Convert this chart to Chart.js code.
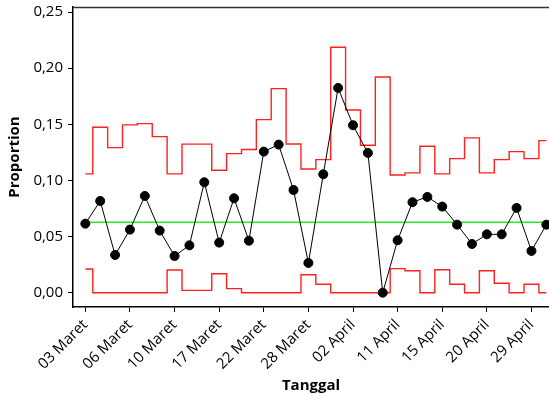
<!DOCTYPE html>
<html>
<head>
<meta charset="utf-8">
<script src="https://cdn.jsdelivr.net/npm/chart.js@4/dist/chart.umd.min.js"></script>
<style>
  html, body { margin: 0; padding: 0; background: #fff; }
</style>
</head>
<body>
<canvas id="pChart" width="549" height="397"></canvas>
<script>
// sample proportions (32 samples)
var proportion = [0.0615, 0.0817, 0.0336, 0.0562, 0.0862, 0.0553, 0.0327, 0.0422,
                  0.0984, 0.0446, 0.0841, 0.0463, 0.1257, 0.1319, 0.0915, 0.0265,
                  0.1055, 0.1824, 0.1492, 0.1245, 0.0000, 0.0467, 0.0806, 0.0853,
                  0.0767, 0.0606, 0.0434, 0.0520, 0.0520, 0.0755, 0.0372, 0.0606];
// upper control limit for each sample
var ucl = [0.1058, 0.1474, 0.1292, 0.1495, 0.1506, 0.1390, 0.1058, 0.1323,
           0.1323, 0.1091, 0.1239, 0.1275, 0.1542, 0.1818, 0.1325, 0.1102,
           0.1185, 0.2187, 0.1628, 0.1314, 0.1922, 0.1049, 0.1067, 0.1305,
           0.1058, 0.1194, 0.1379, 0.1067, 0.1185, 0.1257, 0.1194, 0.1355];
// lower control limit for each sample
var lcl = [0.0211, 0, 0, 0, 0, 0, 0.0202, 0.0021,
           0.0021, 0.0169, 0.0036, 0, 0, 0, 0, 0.0160,
           0.0075, 0, 0, 0, 0, 0.0214, 0.0196, 0,
           0.0205, 0.0075, 0, 0.0196, 0.0084, 0, 0.0075, 0];
var centerLine = 0.0627;

// date labels shown on the x axis, every 3rd sample
var tickIndex = [0, 3, 6, 9, 12, 15, 18, 21, 24, 27, 30];
var tickLabels = ['03 Maret', '06 Maret', '10 Maret', '17 Maret', '22 Maret', '28 Maret',
                  '02 April', '11 April', '15 April', '20 April', '29 April'];
var yTicks = [0, 0.05, 0.10, 0.15, 0.20, 0.25];

function pts(arr) {
    return arr.map(function (v, i) { return { x: i, y: v }; });
}
var clData = proportion.map(function (v, i) { return { x: i, y: centerLine }; });

// plot area runs off the right edge of the picture
var stretch = {
    id: 'stretch',
    afterLayout: function (chart) {
        var x = chart.scales.x;
        x.right = chart.width;
        x.width = x.right - x.left;
        x.configure();
        chart.chartArea.right = chart.width;
        chart.chartArea.width = chart.chartArea.right - chart.chartArea.left;
    }
};

var frame = {
    id: 'frame',
    afterDraw: function (chart) {
        var a = chart.chartArea, c = chart.ctx;
        c.save();
        c.strokeStyle = '#333';
        c.lineWidth = 1.5;
        c.beginPath();
        c.moveTo(a.left, a.top + 0.5);
        c.lineTo(a.right, a.top + 0.5);
        c.stroke();
        c.restore();
    }
};

var fontFam = '"Open Sans", "Noto Sans", sans-serif';
var ctx = document.getElementById('pChart').getContext('2d');
var pChart = new Chart(ctx, {
    type: 'line',
    data: {
        datasets: [
            { label: 'P', data: pts(proportion), borderColor: '#000', backgroundColor: '#000',
              borderWidth: 1, pointRadius: 4.5, pointHoverRadius: 4.5, tension: 0 },
            { label: 'CL', data: clData, borderColor: '#22ee22', borderWidth: 1.5, pointRadius: 0 },
            { label: 'UCL', data: pts(ucl), borderColor: '#ff2020', borderWidth: 1.4,
              pointRadius: 0, stepped: 'middle' },
            { label: 'LCL', data: pts(lcl), borderColor: '#ff2020', borderWidth: 1.4,
              pointRadius: 0, stepped: 'middle' }
        ]
    },
    options: {
        responsive: false,
        animation: false,
        layout: { padding: { top: 7, left: 0, right: 0, bottom: 0 } },
        plugins: { legend: { display: false }, tooltip: { enabled: false } },
        scales: {
            x: {
                type: 'linear',
                min: -0.83,
                max: 31.18,
                afterFit: function (s) {
                    s.height = 90;
                    s.paddingLeft = 0; s.paddingRight = 0;
                },
                afterBuildTicks: function (s) {
                    s.ticks = tickIndex.map(function (v) { return { value: v }; });
                },
                ticks: {
                    autoSkip: false,
                    minRotation: 45,
                    maxRotation: 45,
                    padding: 4,
                    color: '#000',
                    font: { family: fontFam, size: 15 },
                    callback: function (v) {
                        var k = tickIndex.indexOf(v);
                        return k >= 0 ? tickLabels[k] : '';
                    }
                },
                grid: { drawOnChartArea: false, drawTicks: true, tickLength: 5, color: '#000' },
                border: { display: true, color: '#000', width: 1.5 },
                title: { display: true, text: 'Tanggal', color: '#000',
                         font: { family: fontFam, size: 15, weight: 'bold' },
                         padding: { top: 0, bottom: 2 } }
            },
            y: {
                min: -0.01275,
                max: 0.2545,
                afterFit: function (s) {
                    s.width = 73;
                    s.paddingTop = 0; s.paddingBottom = 0;
                },
                afterBuildTicks: function (s) {
                    s.ticks = yTicks.map(function (v) { return { value: v }; });
                },
                ticks: {
                    padding: 5,
                    color: '#000',
                    font: { family: fontFam, size: 15 },
                    callback: function (v) { return v.toFixed(2).replace('.', ','); }
                },
                grid: { drawOnChartArea: false, drawTicks: true, tickLength: 5, color: '#000' },
                border: { display: true, color: '#000', width: 1.5 },
                title: { display: true, text: 'Proportion', color: '#000',
                         font: { family: fontFam, size: 15, weight: 'bold' },
                         padding: { top: 6, bottom: 0 } }
            }
        }
    },
    plugins: [stretch, frame]
});
</script>
</body>
</html>
